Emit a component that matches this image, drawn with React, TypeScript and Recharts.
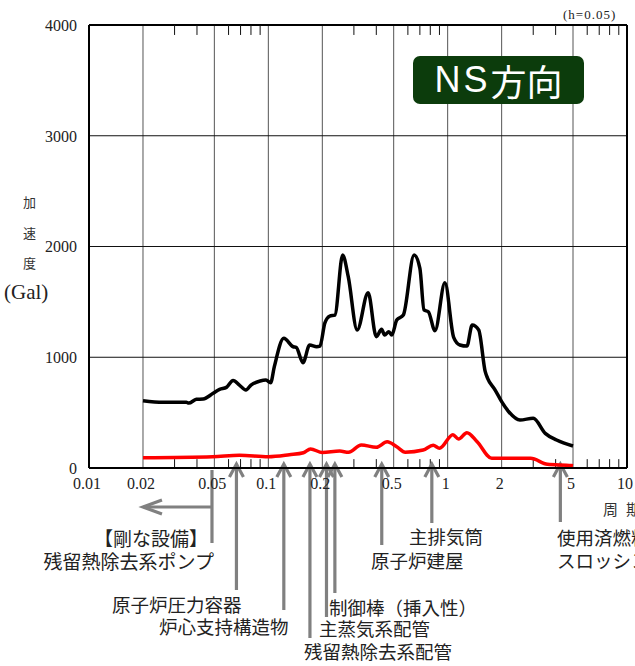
import { ComposedChart, Line, XAxis, YAxis, CartesianGrid, ReferenceLine } from 'recharts';

// 応答スペクトル（h=0.05） NS方向
const blackPeriods = [0.02, 0.0258, 0.0349, 0.036, 0.0397, 0.0433, 0.0492, 0.0535, 0.0584, 0.0636, 0.069, 0.075, 0.08, 0.09, 0.097, 0.103, 0.108, 0.122, 0.1376, 0.143, 0.156, 0.17, 0.186, 0.194, 0.2067, 0.22, 0.235, 0.2597, 0.279, 0.313, 0.36, 0.4, 0.428, 0.445, 0.47, 0.488, 0.52, 0.566, 0.65, 0.7, 0.738, 0.78, 0.85, 0.965, 1.08, 1.17, 1.28, 1.37, 1.49, 1.62, 1.67, 1.84, 2.0, 2.19, 2.53, 3.0, 3.5, 4.05, 5.0];
const blackAccel = [608, 593, 593, 586, 620, 623, 674, 710, 728, 790, 749, 704, 749, 786, 794, 770, 915, 1171, 1095, 1090, 951, 1111, 1095, 1100, 1310, 1372, 1381, 1923, 1727, 1246, 1583, 1186, 1252, 1201, 1231, 1201, 1336, 1381, 1923, 1803, 1427, 1411, 1240, 1673, 1180, 1111, 1101, 1291, 1246, 870, 810, 704, 599, 508, 433, 449, 313, 253, 199];

const redPeriods = [0.02, 0.049, 0.069, 0.1, 0.131, 0.157, 0.172, 0.2, 0.25, 0.28, 0.33, 0.4, 0.46, 0.52, 0.58, 0.73, 0.83, 0.9, 1.07, 1.15, 1.28, 1.46, 1.76, 2.9, 3.6, 4.9, 5.0];
const redAccel = [93, 102, 115, 102, 120, 138, 172, 140, 153, 142, 208, 187, 237, 192, 142, 162, 205, 178, 300, 262, 319, 237, 87, 87, 33, 22, 20];

const majorTicks = [0.01, 0.02, 0.05, 0.1, 0.2, 0.5, 1, 2, 5, 10];
const minorTicks = [0.03, 0.04, 0.06, 0.07, 0.08, 0.09, 0.3, 0.4, 0.6, 0.7, 0.8, 0.9, 3, 4, 6, 7, 8, 9];
const yTicks = [0, 1000, 2000, 3000, 4000];

// 固有周期（矢印）
const arrowPeriods = [0.0664, 0.122, 0.1706, 0.211, 0.235, 0.429, 0.816, 4.25];
const rigidPeriod = 0.0485;

const blackData = blackPeriods.map((p, i) => ({ period: p, accel: blackAccel[i] }));
const redData = redPeriods.map((p, i) => ({ period: p, accel: redAccel[i] }));

// arrow tail length below the axis, px
const arrowTails = [122, 142, 170, 149, 125, 77, 55, 54];

const gray = '#808080';

function upArrow(tail: number) {
  return (props: any) => {
    const x = props.x1;
    const base = Math.max(props.y1, props.y2);
    const tip = base - 4;
    return (
      <g stroke={gray} strokeWidth={3.2} fill="none">
        <line x1={x} y1={tip + 1} x2={x} y2={base + tail} />
        <polyline points={`${x - 7},${tip + 13} ${x},${tip} ${x + 7},${tip + 13}`} />
      </g>
    );
  };
}

function rigidArrow(props: any) {
  const x = props.x1;
  const base = Math.max(props.y1, props.y2);
  const ay = base + 39;
  const left = x - 69;
  return (
    <g stroke={gray} strokeWidth={3.2} fill="none">
      <line x1={x} y1={base + 2} x2={x} y2={base + 75} />
      <line x1={x} y1={ay} x2={left + 1} y2={ay} />
      <polyline points={`${left + 19},${ay - 7} ${left},${ay} ${left + 19},${ay + 7}`} />
    </g>
  );
}

const XTick = ({ x, y, payload }: any) => (
  <text x={x - 2} y={y + 21} textAnchor="middle" fontSize={16} fontFamily="'Liberation Serif', serif" fill="#222">
    {payload.value}
  </text>
);

const YTick = ({ x, y, payload }: any) => (
  <text x={x} y={y} dy="0.36em" textAnchor="end" fontSize={16} fontFamily="'Liberation Serif', serif" fill="#222">
    {payload.value}
  </text>
);

const jp = "'Noto Sans CJK JP', sans-serif";

function Label({ text, left, right, cy, size = 18.5, font = jp, color = '#222', spacing = 0 }: any) {
  return (
    <div
      style={{
        position: 'absolute',
        left,
        right,
        top: cy - size / 2,
        fontSize: size,
        lineHeight: 1,
        fontFamily: font,
        color,
        whiteSpace: 'nowrap',
        letterSpacing: spacing,
        textAlign: right !== undefined ? 'right' : 'left',
      }}
    >
      {text}
    </div>
  );
}

export default function App() {
  return (
    <div style={{ position: 'absolute', left: 0, top: 0, width: 635, height: 666, overflow: 'hidden', background: '#fff' }}>
      <ComposedChart width={635} height={666} margin={{ top: 25, right: 8, bottom: 168, left: 0 }}>
        <CartesianGrid horizontal={false} stroke="#555" strokeWidth={1} />
        <CartesianGrid vertical={false} stroke="#111" strokeWidth={1} />
        <XAxis
          dataKey="period"
          type="number"
          scale="log"
          domain={[0.01, 10]}
          allowDataOverflow
          ticks={majorTicks}
          tick={<XTick />}
          tickLine={false}
          tickSize={0}
          tickMargin={0}
          height={30}
          axisLine={{ stroke: '#000', strokeWidth: 2 }}
        />
        <YAxis
          dataKey="accel"
          type="number"
          domain={[0, 4000]}
          ticks={yTicks}
          tick={<YTick />}
          tickLine={false}
          tickSize={0}
          tickMargin={12}
          width={89}
          axisLine={{ stroke: '#000', strokeWidth: 2 }}
        />
        <ReferenceLine y={4000} stroke="#000" strokeWidth={2} />
        <ReferenceLine x={10} stroke="#000" strokeWidth={2} />
        {minorTicks.map((t) => (
          <ReferenceLine key={`b${t}`} segment={[{ x: t, y: 0 }, { x: t, y: 80 }]} stroke="#111" strokeWidth={1} />
        ))}
        {minorTicks.map((t) => (
          <ReferenceLine key={`t${t}`} segment={[{ x: t, y: 4000 }, { x: t, y: 3910 }]} stroke="#111" strokeWidth={1} />
        ))}
        {arrowPeriods.map((p, i) => (
          <ReferenceLine key={`a${p}`} x={p} ifOverflow="visible" shape={upArrow(arrowTails[i])} />
        ))}
        <ReferenceLine x={rigidPeriod} ifOverflow="visible" shape={rigidArrow} />
        <Line data={blackData} dataKey="accel" type="monotone" stroke="#000" strokeWidth={3.5} dot={false} isAnimationActive={false} />
        <Line data={redData} dataKey="accel" type="monotone" stroke="#ff0000" strokeWidth={3.5} dot={false} isAnimationActive={false} />
      </ComposedChart>

      <div
        style={{
          position: 'absolute',
          left: 413,
          top: 56,
          width: 171,
          height: 48,
          background: '#0c3c0c',
          borderRadius: 7,
          color: '#fff',
          display: 'flex',
          alignItems: 'center',
          justifyContent: 'center',
          fontSize: 36,
          lineHeight: 1,
        }}
      >
        <span style={{ fontFamily: "'Liberation Sans', sans-serif", letterSpacing: 3 }}>NS</span>
        <span style={{ fontFamily: jp }}>方向</span>
      </div>

      <Label text="(h=0.05)" left={563} cy={14.5} size={13} font="'Liberation Serif', serif" spacing={1} />
      <Label text="加" left={23} cy={201} size={13} color="#333" />
      <Label text="速" left={23} cy={232.5} size={13} color="#333" />
      <Label text="度" left={23} cy={262} size={13} color="#333" />
      <Label text="(Gal)" left={4} cy={292} size={21} font="'Liberation Serif', serif" />
      <Label text="周" left={603} cy={508} size={15} color="#333" />
      <Label text="期" left={626} cy={508} size={15} color="#333" />

      <Label text="【剛な設備】" right={635 - 208} cy={537.5} size={19} />
      <Label text="残留熱除去系ポンプ" right={635 - 214} cy={560.5} size={19} />
      <Label text="原子炉圧力容器" left={112} cy={604} />
      <Label text="炉心支持構造物" left={159} cy={626} />
      <Label text="残留熱除去系配管" left={304} cy={651} />
      <Label text="主蒸気系配管" left={319} cy={628} />
      <Label text="制御棒（挿入性）" left={329} cy={607.5} />
      <Label text="原子炉建屋" left={371} cy={560.5} />
      <Label text="主排気筒" left={409} cy={536} />
      <Label text="使用済燃料プール" left={557} cy={537} />
      <Label text="スロッシング" left={557} cy={560} />
    </div>
  );
}
